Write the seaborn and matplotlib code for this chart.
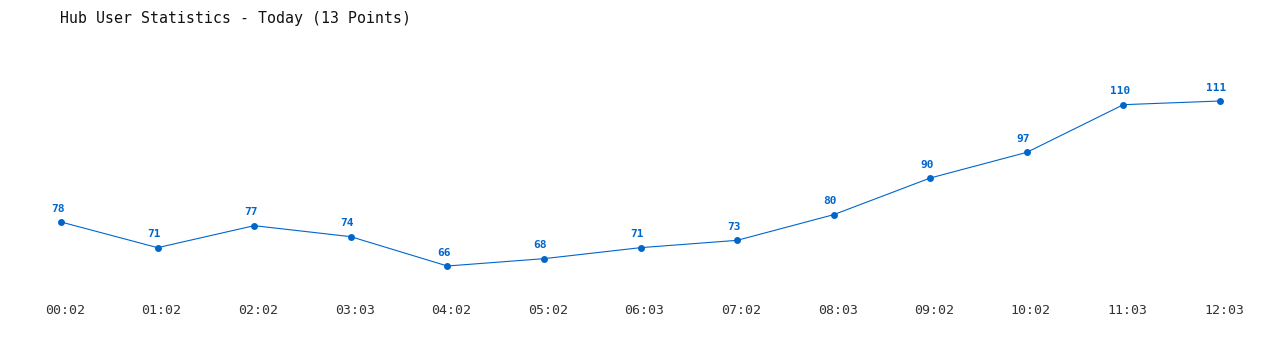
import matplotlib
matplotlib.use("Agg")
import matplotlib.pyplot as plt
import matplotlib.transforms as mtransforms
import seaborn as sns
import pandas as pd

times = ["00:02", "01:02", "02:02", "03:03", "04:02", "05:02", "06:03",
         "07:02", "08:03", "09:02", "10:02", "11:03", "12:03"]
users = [78, 71, 77, 74, 66, 68, 71, 73, 80, 90, 97, 110, 111]
title = "Hub User Statistics - Today (13 Points)"

sns.set_theme(style="white")
plt.rcParams["font.family"] = ["DejaVu Sans Mono", "DejaVu Sans"]

color = "#0066cc"
df = pd.DataFrame({"idx": range(len(times)), "users": users})

fig = plt.figure(figsize=(12.8, 3.5), dpi=100)
ax = fig.add_axes([61 / 1280, (350 - 266) / 350, (1220 - 61) / 1280, (266 - 101) / 350])
sns.lineplot(data=df, x="idx", y="users", ax=ax, color=color, linewidth=0.8,
             marker="o", markersize=5, markeredgewidth=0, clip_on=False)
for l in ax.lines:
    l.set_clip_on(False)

ax.set_xlim(0, len(times) - 1)
ax.set_ylim(min(users), max(users))
for i, v in enumerate(users):
    ax.annotate(str(v), (i, v), xytext=(-2.5, 9.5), textcoords="offset points",
                ha="center", va="center", fontsize=8, fontweight="bold", color=color)

ax.set_xticks(range(len(times)))
ax.set_xticklabels(times, fontsize=9.5, color="#333333")
ax.tick_params(axis="x", length=0, pad=27)
shift = mtransforms.ScaledTranslation(4 / 100, 0, fig.dpi_scale_trans)
for lab in ax.get_xticklabels():
    lab.set_transform(lab.get_transform() + shift)
ax.set_yticks([])
ax.set_xlabel("")
ax.set_ylabel("")
for s in ax.spines.values():
    s.set_visible(False)

fig.text(60 / 1280, 1 - 18 / 350, title, ha="left", va="center", fontsize=10.7, color="#111111")

fig.savefig("out.png", dpi=100, facecolor="white")
